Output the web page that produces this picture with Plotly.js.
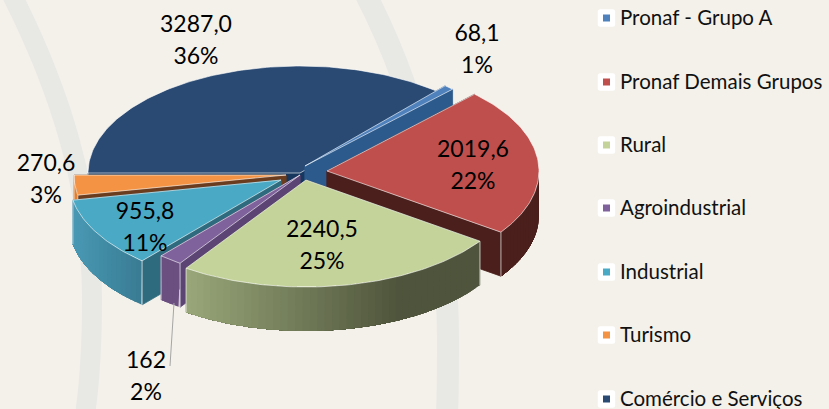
<!DOCTYPE html>
<html><head><meta charset="utf-8">
<script src="https://cdn.plot.ly/plotly-3.0.1.min.js"></script>
<style>html,body{margin:0;padding:0;background:#f4f1ea}#c{width:829px;height:409px}</style>
</head><body><div id="c"></div>
<script>
// ---- data ----
const categories = ["Pronaf - Grupo A","Pronaf Demais Grupos","Rural","Agroindustrial","Industrial","Turismo","Comércio e Serviços"];
const values = [68.1,2019.6,2240.5,162,955.8,270.6,3287.0];
const valueLabels = ["68,1","2019,6","2240,5","162","955,8","270,6","3287,0"];
const percentLabels = ["1%","22%","25%","2%","11%","3%","36%"];

// ---- style / geometry ----
const FONT = "Lato, 'Open Sans', sans-serif";
const BG = "#f4f1ea", BAND = "#e8e9e5";
const RX = 212, RY = 107, DEPTH = 44, START_DEG = 41.4;
const topColors  = ["#4f81bd","#bf4f4c","#c4d39a","#7f629c","#4aa9c4","#f39343","#2a4a73"];
const faceColors = ["#2c5a8c","#4a1f1c","#50563c","#5c4574","#2f6b7e","#6b3c1e","#17375e"];
const wallLeft   = ["#2c5a8c","#4a1f1c","#9aa87a","#6b4f80","#4a9ab5","#e08030","#1e3a5f"];
const wallRight  = ["#2c5a8c","#4a1f1c","#4f553c","#6b4f80","#397c94","#e08030","#1e3a5f"];
const apexX = [305,327,306,300,281,286,300];
const apexY = [166,171,180,175,180,175,173];
const labelX = [477,473,322,146,145,46,196];
const labelY = [35,151,231,362,213,165,26];
const LINE_GAP = 32;
const drawOrder = [6,0,5,4,3,1,2];
const legendY = [18,82,145,208,272,335,399];
const LEG_BOX_X = 606.5, LEG_TEXT_X = 620, LEG_TEXT_DY = 1.5;

// ---- helpers ----
const total = values.reduce((a,b)=>a+b,0);
const spans = []; let acc = START_DEG;
values.forEach(v=>{const a=acc, b=acc+v/total*360; spans.push([a,b]); acc=b;});
const rad = d=>d*Math.PI/180;
const px = (i,t)=>apexX[i]+RX*Math.sin(rad(t));
const py = (i,t,z)=>apexY[i]-RY*Math.cos(rad(t))+(z||0);
const hex = c=>[1,3,5].map(k=>parseInt(c.substr(k,2),16));
const mix = (a,b,f)=>{const A=hex(a),B=hex(b);return "rgb("+A.map((v,k)=>Math.round(v+(B[k]-v)*f)).join(",")+")";};
const poly = (x,y,fill,line,w)=>({type:"scatter",mode:"lines",x,y,fill:"toself",fillcolor:fill,
  line:{color:line||fill,width:w===undefined?0.8:w},hoverinfo:"skip",showlegend:false});
const edge = (x,y,color,w)=>({type:"scatter",mode:"lines",x,y,line:{color,width:w},hoverinfo:"skip",showlegend:false});

const traces = [];
drawOrder.forEach(i=>{
  const [a,b]=spans[i];
  // cut faces
  [a,b].forEach(t=>{
    traces.push(poly([apexX[i],px(i,t),px(i,t),apexX[i],apexX[i]],
      [apexY[i],py(i,t),py(i,t,DEPTH),apexY[i]+DEPTH,apexY[i]],faceColors[i]));
  });
  // outer wall, front half only: overlapping bands give a smooth left-to-right gradient
  const from=Math.max(a,90), to=Math.min(b,270);
  if(to>from){
    const step=2;
    // painted from the far end so each band overlaps the previous one without seams
    for(let t=from;t<to;t+=step){
      const xs=[],ys=[];
      for(let u=t;u<=to+1e-6;u+=0.5){xs.push(px(i,u));ys.push(py(i,u));}
      for(let u=to;u>=t-1e-6;u-=0.5){xs.push(px(i,u));ys.push(py(i,u,DEPTH));}
      xs.push(xs[0]);ys.push(ys[0]);
      const xm=px(i,t);
      let ff=(xm-(apexX[i]-RX))/(RX*2);
      if(i===2) ff=(xm-187)/213;
      if(i===4) ff=(xm-72)/71;
      ff=Math.min(1,Math.max(0,ff));
      const col=mix(wallLeft[i],wallRight[i],ff);
      traces.push({type:"scatter",mode:"none",x:xs,y:ys,fill:"toself",fillcolor:col,hoverinfo:"skip",showlegend:false});
    }
  }
  // top face
  const tx=[apexX[i]], ty=[apexY[i]];
  for(let t=a;t<b;t+=1){tx.push(px(i,t));ty.push(py(i,t));}
  tx.push(px(i,b),apexX[i]); ty.push(py(i,b),apexY[i]);
  traces.push(poly(tx,ty,topColors[i],"rgba(255,255,255,0.6)",1));
  // light corner between cut face and wall
  [b,a].forEach(t=>{
    if(Math.cos(rad(t))<0.15) traces.push(edge([px(i,t),px(i,t)],[py(i,t),py(i,t,DEPTH)],"rgba(255,255,255,0.55)",1.2));
  });
});

// leader line for the small slice
traces.push(edge([174,170],[303,366],"#a6a6a6",1));

// value + percent labels
traces.push({type:"scatter",mode:"text",
  x:labelX.concat(labelX),
  y:labelY.concat(labelY.map(v=>v+LINE_GAP)),
  text:valueLabels.concat(percentLabels),
  textposition:"middle center",cliponaxis:false,
  textfont:{family:FONT,size:23,color:"#000"},hoverinfo:"skip",showlegend:false});

// legend
traces.push({type:"scatter",mode:"markers",x:legendY.map(()=>LEG_BOX_X),y:legendY,
  marker:{symbol:"square",size:7,color:topColors,line:{width:0}},hoverinfo:"skip",showlegend:false});
traces.push({type:"scatter",mode:"text",x:legendY.map(()=>LEG_TEXT_X),y:legendY.map(v=>v+LEG_TEXT_DY),text:categories,
  textposition:"middle right",cliponaxis:false,
  textfont:{family:FONT,size:20.5,color:"#111"},hoverinfo:"skip",showlegend:false});

const roundBox=(cx,cy,h,r)=>{const l=cx-h,R=cx+h,t=cy-h,b=cy+h;
  return `M${l+r},${t} L${R-r},${t} Q${R},${t} ${R},${t+r} L${R},${b-r} Q${R},${b} ${R-r},${b} L${l+r},${b} Q${l},${b} ${l},${b-r} L${l},${t+r} Q${l},${t} ${l+r},${t} Z`;};

const shapes=[
 {type:"path",xref:"x",yref:"y",layer:"below",line:{color:BAND,width:20},
  path:"M 12,-5 C 60,90 92,190 92,300 C 92,340 90,380 85,415"},
 {type:"path",xref:"x",yref:"y",layer:"below",line:{color:BAND,width:22},
  path:"M 366,-5 C 420,100 448,220 448,340 C 448,365 448,390 447,415"}
].concat(legendY.map(y=>({type:"path",xref:"x",yref:"y",layer:"below",fillcolor:"#fff",line:{width:0},
  path:roundBox(LEG_BOX_X,y,8.7,2.5)})));

const layout={width:829,height:409,margin:{l:0,r:0,t:0,b:0},paper_bgcolor:BG,plot_bgcolor:BG,showlegend:false,
  xaxis:{range:[0,829],visible:false,fixedrange:true},
  yaxis:{range:[409,0],visible:false,fixedrange:true},
  shapes};
Plotly.newPlot("c",traces,layout,{displayModeBar:false,staticPlot:true});
</script></body></html>
